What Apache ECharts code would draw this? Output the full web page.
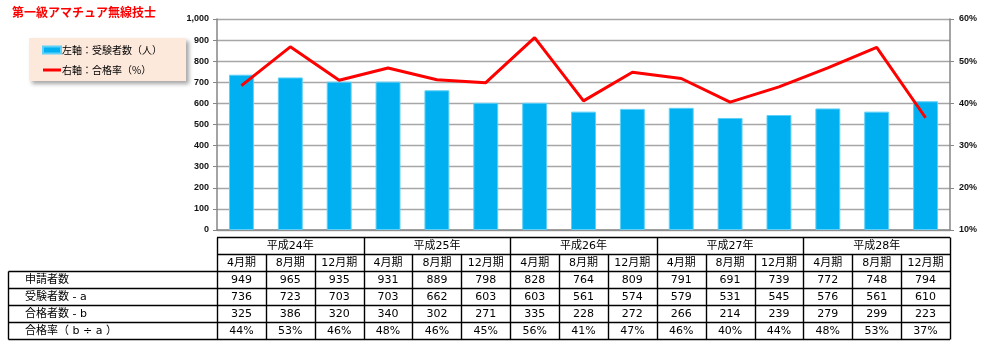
<!DOCTYPE html>
<html><head><meta charset="utf-8">
<script src="https://cdn.jsdelivr.net/npm/echarts@6/dist/echarts.min.js"></script>
<style>html,body{margin:0;padding:0;background:#fff}#c{width:986px;height:348px}</style>
</head><body><div id="c"></div>
<script>
const titleText = '第一級アマチュア無線技士';
const years = ['平成24年','平成25年','平成26年','平成27年','平成28年'];
const periods = ['4月期','8月期','12月期','4月期','8月期','12月期','4月期','8月期','12月期','4月期','8月期','12月期','4月期','8月期','12月期'];
const applicants = [949,965,935,931,889,798,828,764,809,791,691,739,772,748,794];
const examinees = [736,723,703,703,662,603,603,561,574,579,531,545,576,561,610];
const passers = [325,386,320,340,302,271,335,228,272,266,214,239,279,299,223];
const rateLabels = ['44%','53%','46%','48%','46%','45%','56%','41%','47%','46%','40%','44%','48%','53%','37%'];
const passRate = [44.2,53.4,45.5,48.4,45.6,44.9,55.6,40.6,47.4,45.9,40.3,43.9,48.4,53.3,36.6];
const rowLabels = ['申請者数','受験者数 - a','合格者数 - b','合格率（ b ÷ a ）'];
const barName = '左軸：受験者数（人）';
const lineName = '右軸：合格率（%）';

const G = {left:217, right:36, top:19, bottom:118};
const W = 986, H = 348;
const plotW = W - G.left - G.right;
const band = plotW / periods.length;
const cats = periods.map((p,i)=>i+'');

const FONT = '"DejaVu Sans","Noto Sans CJK JP",sans-serif';
const graphics = [];
function line(x1,y1,x2,y2,w){graphics.push({type:'line',shape:{x1,y1,x2,y2},style:{stroke:'#000',lineWidth:w||1.4},silent:true});}
function text(t,x,y,align){graphics.push({type:'text',x,y,style:{text:t,fill:'#000',font:'11px '+FONT,align:align||'center',verticalAlign:'middle'},silent:true});}

const tTop = 237.5, rowH = 17;
const tableLeft = 8.5, colX0 = G.left, colX1 = W - G.right;
const rowsY = [tTop, tTop+rowH, tTop+2*rowH, tTop+3*rowH, tTop+4*rowH, tTop+5*rowH, tTop+6*rowH];
line(colX0, rowsY[0], colX1, rowsY[0]);
line(colX0, rowsY[1], colX1, rowsY[1]);
for (let r=2;r<=6;r++) line(tableLeft, rowsY[r], colX1, rowsY[r]);
line(tableLeft, rowsY[2], tableLeft, rowsY[6]);
for (let i=0;i<=periods.length;i++){
  const x = Math.round(colX0 + i*band)+0.5;
  const y0 = (i%3===0) ? rowsY[0] : rowsY[1];
  line(x, y0, x, rowsY[6]);
}
years.forEach((y,k)=>text(y, colX0 + (k*3+1.5)*band, (rowsY[0]+rowsY[1])/2));
periods.forEach((p,i)=>text(p, colX0 + (i+0.5)*band, (rowsY[1]+rowsY[2])/2));
const rowsData = [applicants.map(String), examinees.map(String), passers.map(String), rateLabels];
rowsData.forEach((arr,r)=>{
  const yc = (rowsY[r+2]+rowsY[r+3])/2;
  text(rowLabels[r], 25, yc, 'left');
  arr.forEach((v,i)=>text(v, colX0 + (i+0.5)*band, yc));
});

const axisLabel = {color:'#111', fontSize:9, fontWeight:'bold', fontFamily:'"Liberation Sans",Arial,sans-serif'};
const chart = echarts.init(document.getElementById('c'), null, {renderer:'canvas'});
chart.setOption({
  animation:false,
  title:{text:titleText, left:7, top:1, textStyle:{color:'#ff0000', fontSize:12, fontWeight:'bold', fontFamily:'"Noto Sans CJK JP",sans-serif'}},
  legend:{
    orient:'vertical', left:29, top:38,
    backgroundColor:'#fce9dc', padding:[7,24,6,13], itemGap:10,
    shadowColor:'rgba(0,0,0,0.35)', shadowBlur:4, shadowOffsetX:3, shadowOffsetY:3,
    itemWidth:18, itemHeight:7,
    textStyle:{fontSize:10, color:'#000', fontFamily:'"Noto Sans CJK JP",sans-serif', padding:[0,0,0,-4]},
    data:[{name:barName, icon:'rect'},{name:lineName, icon:'path://M0,0H60V10H0Z'}]
  },
  grid:{left:G.left, right:G.right, top:G.top, bottom:G.bottom},
  xAxis:{type:'category', data:cats, axisLine:{lineStyle:{color:'#868686', width:1.5}}, axisTick:{show:false}, axisLabel:{show:false}},
  yAxis:[
    {type:'value', min:0, max:1000, interval:100, position:'left',
     axisLine:{show:true, lineStyle:{color:'#868686', width:1.5}},
     axisTick:{show:true, length:4, lineStyle:{color:'#868686'}},
     splitLine:{lineStyle:{color:'#a6a6a6', width:1.3}},
     axisLabel:Object.assign({margin:8, formatter:v=>v.toLocaleString('en-US')}, axisLabel)},
    {type:'value', min:10, max:60, interval:10, position:'right',
     axisLine:{show:true, lineStyle:{color:'#868686', width:1.5}},
     axisTick:{show:true, length:4, lineStyle:{color:'#868686'}},
     splitLine:{show:false},
     axisLabel:Object.assign({margin:9, formatter:v=>v+'%'}, axisLabel)}
  ],
  series:[
    {name:barName, type:'bar', data:examinees, yAxisIndex:0, barWidth:'51%',
     itemStyle:{color:'#00b0f0', borderColor:'#5fd0f7', borderWidth:1}},
    {name:lineName, type:'line', data:passRate, yAxisIndex:1, symbol:'none',
     lineStyle:{color:'#ff0000', width:3}, itemStyle:{color:'#ff0000'}, z:5}
  ],
  graphic:graphics
});
</script></body></html>
